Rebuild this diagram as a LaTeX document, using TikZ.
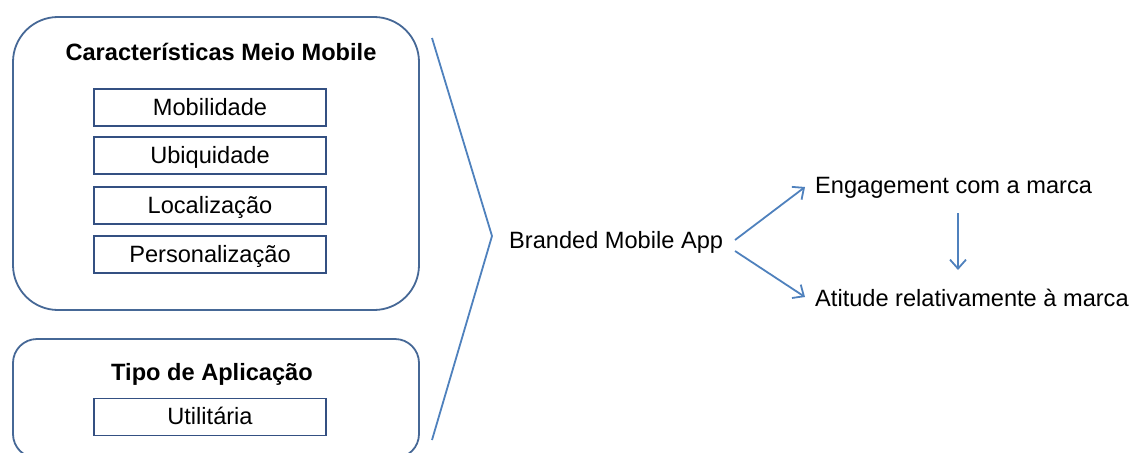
\documentclass[tikz,border=0pt]{standalone}
\usepackage{fontspec}
\setmainfont{Liberation Sans}
\usetikzlibrary{arrows.meta}
\definecolor{outerblue}{RGB}{70,104,150}
\definecolor{innerblue}{RGB}{52,80,130}
\definecolor{lineblue}{RGB}{79,129,189}
\begin{document}
\begin{tikzpicture}[x=1pt,y=-1pt,
  font=\fontsize{23.6}{28}\selectfont,
  outerbox/.style={draw=outerblue,line width=1.8pt,minimum width=406pt,inner sep=0pt},
  itembox/.style={draw=innerblue,line width=1.6pt,minimum width=232pt,minimum height=37pt,inner sep=0pt,text height=17pt,text depth=2pt},
  titletext/.style={font=\fontsize{23.6}{28}\selectfont\bfseries,inner sep=0pt,anchor=base},
  plaintext/.style={inner sep=0pt,anchor=base west},
  conn/.style={draw=lineblue,line width=1.8pt},
  arr/.style={conn,-{Straight Barb[length=9pt,width=16pt,line width=1.8pt]}}]
\useasboundingbox (0,0) rectangle (1134,452);
\clip (0,0) rectangle (1134,452);
% outer boxes
\node[outerbox,minimum height=293pt,rounded corners=45pt] (box1) at (216,163.5) {};
\node[outerbox,minimum height=119pt,rounded corners=24pt] (box2) at (216,398.5) {};
% titles
\node[titletext] (t1) at (221,60) {Características Meio Mobile};
\node[titletext] (t2) at (212,380) {Tipo de Aplicação};
% item boxes
\node[itembox] (mob) at (210,107.5) {Mobilidade};
\node[itembox] (ubi) at (210,155.5) {Ubiquidade};
\node[itembox] (loc) at (210,205.5) {Localização};
\node[itembox] (per) at (210,254.5) {Personalização};
\node[itembox] (uti) at (210,417) {Utilitária};
% chevron
\coordinate (chtop) at (432,38);
\coordinate (chtip) at (492,236);
\coordinate (chbot) at (432,440);
\draw[conn,line join=miter] (chtop) -- (chtip) -- (chbot);
% texts
\node[plaintext] (bma) at (509,248) {Branded Mobile App};
\node[plaintext] (eng) at (815,193) {Engagement com a marca};
\node[plaintext] (ati) at (815,306) {Atitude relativamente à marca};
% arrows
\coordinate (s1) at (735,240);
\coordinate (e1) at (805,187);
\coordinate (s2) at (735,251);
\coordinate (e2) at (805,297);
\coordinate (s3) at (958,213);
\coordinate (e3) at (958,270);
\draw[arr] (s1) -- (e1);
\draw[arr] (s2) -- (e2);
\draw[arr] (s3) -- (e3);
\end{tikzpicture}
\end{document}
